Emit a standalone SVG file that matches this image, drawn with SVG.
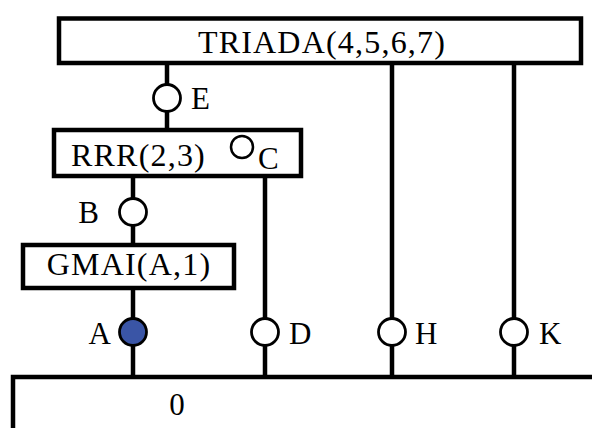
<svg xmlns="http://www.w3.org/2000/svg" width="592" height="428" viewBox="0 0 592 428">
<style>
.box{fill:#fff;stroke:#000;stroke-width:4.5}
.ln{stroke:#000;stroke-width:4.5;fill:none}
.pt{fill:#fff;stroke:#000;stroke-width:2.8}
.t{font-family:"Liberation Serif","Times New Roman",serif;font-size:32px;letter-spacing:1.2px;fill:#000}
.l{font-family:"Liberation Serif","Times New Roman",serif;font-size:31px;fill:#000}
</style>
<rect width="592" height="428" fill="#fff"/>
<g id="connectors">
<line class="ln" x1="167" y1="65" x2="167" y2="130"/>
<line class="ln" x1="133" y1="178" x2="133" y2="245"/>
<line class="ln" x1="265" y1="178" x2="265" y2="377"/>
<line class="ln" x1="392" y1="65" x2="392" y2="377"/>
<line class="ln" x1="514" y1="65" x2="514" y2="377"/>
<line class="ln" x1="133" y1="290" x2="133" y2="377"/>
</g>
<g id="triada">
<rect class="box" x="59" y="18.5" width="522" height="44.5"/>
<text class="t" x="322" y="53" text-anchor="middle">TRIADA(4,5,6,7)</text>
</g>
<g id="rrr">
<rect class="box" x="54" y="130" width="247" height="46"/>
<text class="t" x="71" y="166">RRR(2,3)</text>
</g>
<g id="gmai">
<rect class="box" x="23" y="245" width="211" height="43"/>
<text class="t" x="129" y="275" text-anchor="middle">GMAI(A,1)</text>
</g>
<g id="base">
<path class="ln" d="M13 430V377H594"/>
<text class="l" x="177" y="415" text-anchor="middle">0</text>
</g>
<g id="pE"><circle class="pt" cx="167" cy="98" r="13.5"/><text class="l" x="191" y="109">E</text></g>
<g id="pC"><circle class="pt" cx="242" cy="147" r="11" style="stroke-width:2.5"/><text class="l" x="258" y="169">C</text></g>
<g id="pB"><circle class="pt" cx="133" cy="212" r="13.5"/><text class="l" x="99" y="223" text-anchor="end">B</text></g>
<g id="pA"><circle class="pt" cx="133" cy="332" r="13.5" style="fill:#3a55a6"/><text class="l" x="111" y="344" text-anchor="end">A</text></g>
<g id="pD"><circle class="pt" cx="265" cy="332" r="13.5"/><text class="l" x="289" y="344">D</text></g>
<g id="pH"><circle class="pt" cx="392" cy="332" r="13.5"/><text class="l" x="415" y="344">H</text></g>
<g id="pK"><circle class="pt" cx="514" cy="332" r="13.5"/><text class="l" x="539" y="344">K</text></g>
</svg>
